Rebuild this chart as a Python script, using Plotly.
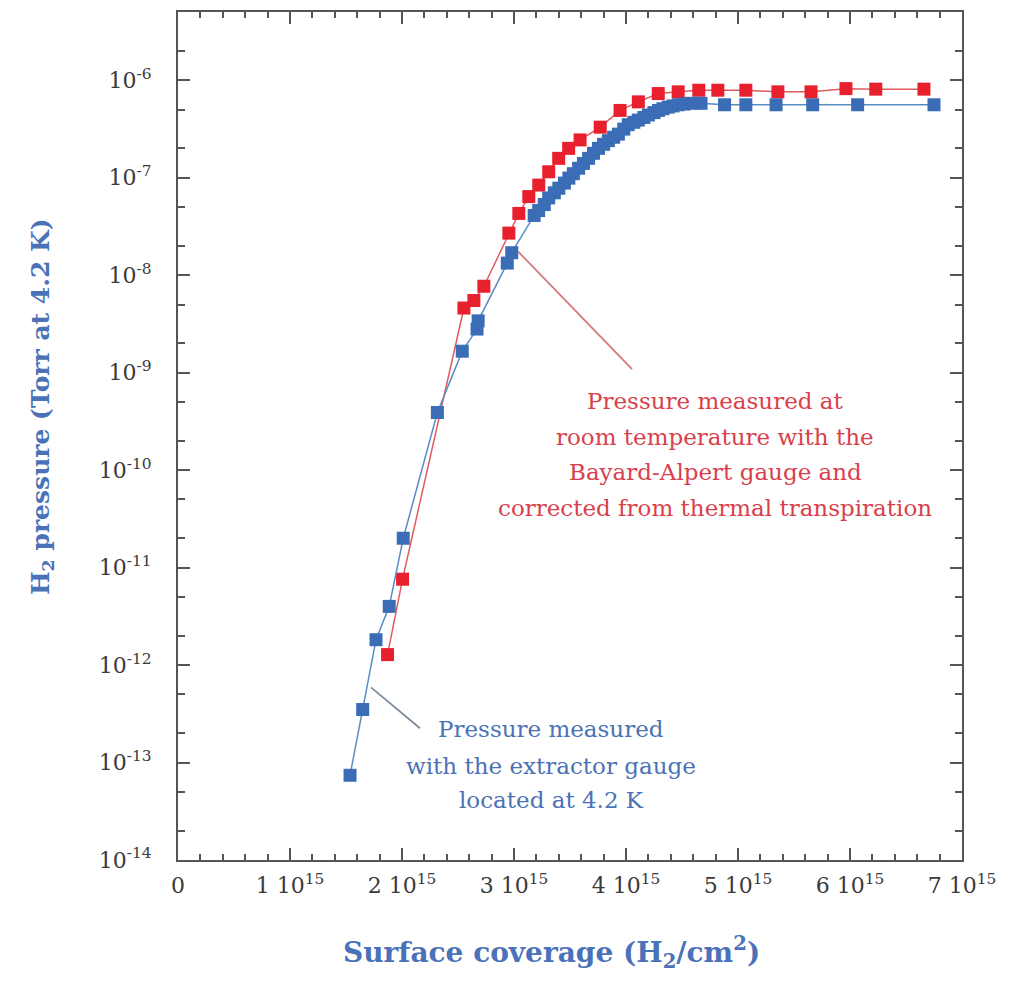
import plotly.graph_objects as go

# Extractor gauge at 4.2 K (blue)
blue_cov = [1.536, 1.649, 1.768, 1.886, 2.011, 2.316, 2.538, 2.67, 2.68, 2.94, 2.98,
            3.18, 3.22, 3.27, 3.31, 3.36, 3.40, 3.45, 3.49, 3.53, 3.577, 3.62, 3.666,
            3.71, 3.754, 3.80, 3.843, 3.89, 3.932, 3.98, 4.02, 4.07, 4.11, 4.16, 4.20,
            4.25, 4.29, 4.33, 4.377, 4.42, 4.466, 4.52, 4.58, 4.67, 4.88, 5.07, 5.34,
            5.667, 6.068, 6.75]
blue_p = [7.4e-14, 3.5e-13, 1.82e-12, 4.0e-12, 2.0e-11, 3.9e-10, 1.66e-9, 2.8e-9, 3.4e-9,
          1.33e-8, 1.7e-8,
          4.1e-8, 4.6e-8, 5.3e-8, 6.2e-8, 7.0e-8, 7.8e-8, 8.8e-8, 9.9e-8, 1.1e-7, 1.25e-7,
          1.4e-7, 1.58e-7, 1.78e-7, 2.0e-7, 2.2e-7, 2.4e-7, 2.6e-7, 2.8e-7, 3.15e-7,
          3.5e-7, 3.7e-7, 3.9e-7, 4.15e-7, 4.4e-7, 4.65e-7, 4.9e-7, 5.1e-7, 5.3e-7,
          5.45e-7, 5.6e-7, 5.7e-7, 5.8e-7, 5.8e-7, 5.6e-7, 5.6e-7, 5.6e-7, 5.6e-7,
          5.6e-7, 5.6e-7]

# Bayard-Alpert gauge at room temperature, corrected (red)
red_cov = [1.871, 2.005, 2.553, 2.642, 2.731, 2.954, 3.043, 3.132, 3.221, 3.310, 3.399,
           3.488, 3.59, 3.77, 3.947, 4.11, 4.288, 4.466, 4.65, 4.82, 5.07, 5.356,
           5.652, 5.964, 6.23, 6.66]
red_p = [1.28e-12, 7.6e-12, 4.6e-9, 5.5e-9, 7.7e-9, 2.7e-8, 4.3e-8, 6.4e-8, 8.4e-8,
         1.15e-7, 1.58e-7, 2.0e-7, 2.44e-7, 3.3e-7, 4.9e-7, 6.0e-7, 7.3e-7, 7.6e-7,
         7.9e-7, 7.9e-7, 7.9e-7, 7.6e-7, 7.6e-7, 8.2e-7, 8.1e-7, 8.1e-7]

x_ticks = [0, 1, 2, 3, 4, 5, 6, 7]
x_ticktext = ["0"] + [f"{k} 10<sup>15</sup>" for k in range(1, 8)]
y_exps = [-14, -13, -12, -11, -10, -9, -8, -7, -6]
y_ticktext = [f"10<sup>{e}</sup>" for e in y_exps]

red_note = ["Pressure measured at", "room temperature with the",
            "Bayard-Alpert gauge and", "corrected from thermal transpiration"]
blue_note = ["Pressure measured", "with the extractor gauge", "located at 4.2 K"]

SERIF = "DejaVu Serif"
AXIS = "#555555"
BLUE = "#3a6db5"
RED = "#e8202e"

fig = go.Figure()
fig.add_trace(go.Scatter(
    x=red_cov, y=red_p, mode="lines+markers",
    line=dict(color="#e05a5e", width=1.5),
    marker=dict(symbol="square", size=13, color=RED),
    showlegend=False))
fig.add_trace(go.Scatter(
    x=blue_cov, y=blue_p, mode="lines+markers",
    line=dict(color="#5a8cc4", width=1.5),
    marker=dict(symbol="square", size=13, color=BLUE),
    showlegend=False))

L, R, T, B = 178, 61, 10, 125
W, H = 1023, 985
pw, ph = W - L - R, H - T - B

def px(xp):
    return (xp - L) / pw

def py(yp):
    return (H - B - yp) / ph

tickfont = dict(family=SERIF, size=22, color="#3a3a3a")

fig.update_xaxes(
    range=[0, 7], tickvals=x_ticks, ticktext=x_ticktext,
    showline=True, linecolor=AXIS, linewidth=2, mirror="ticks",
    ticks="inside", ticklen=12, tickwidth=2, tickcolor=AXIS,
    minor=dict(ticks="inside", ticklen=6, tickwidth=1.5, tickcolor=AXIS, dtick=0.2),
    showgrid=False, zeroline=False, tickfont=tickfont, ticklabelstandoff=5)

fig.update_yaxes(
    type="log", range=[-14, -5.3],
    tickvals=[10.0 ** e for e in y_exps], ticktext=y_ticktext,
    showline=True, linecolor=AXIS, linewidth=2, mirror="ticks",
    ticks="inside", ticklen=12, tickwidth=2, tickcolor=AXIS,
    minor=dict(ticks="inside", ticklen=7, tickwidth=1.5, tickcolor=AXIS),
    showgrid=False, zeroline=False, tickfont=tickfont, ticklabelstandoff=20)

annotations = []
red_y = [400, 436, 471, 507]
for txt, yp in zip(red_note, red_y):
    annotations.append(dict(
        xref="paper", yref="paper", x=px(715), y=py(yp), text=txt, showarrow=False,
        xanchor="center", yanchor="middle",
        font=dict(family=SERIF, size=23, color="#d8414c")))
blue_y = [729, 766, 800]
for txt, yp in zip(blue_note, blue_y):
    annotations.append(dict(
        xref="paper", yref="paper", x=px(551), y=py(yp), text=txt, showarrow=False,
        xanchor="center", yanchor="middle",
        font=dict(family=SERIF, size=23, color="#4a72b4")))

annotations.append(dict(
    xref="paper", yref="paper", x=px(551), y=py(953),
    text="<b>Surface coverage (H<sub>2</sub>/cm<sup>2</sup>)</b>", showarrow=False,
    xanchor="center", yanchor="middle",
    font=dict(family=SERIF, size=28, color="#4a72b8")))
annotations.append(dict(
    xref="paper", yref="paper", x=px(42), y=py(406),
    text="<b>H<sub>2</sub> pressure (Torr at 4.2 K)</b>", showarrow=False,
    textangle=-90, xanchor="center", yanchor="middle",
    font=dict(family=SERIF, size=25, color="#4a72b8")))

shapes = [
    dict(type="line", xref="paper", yref="paper",
         x0=px(518), y0=py(250), x1=px(632), y1=py(368),
         line=dict(color="#d47a7e", width=1.8)),
    dict(type="line", xref="paper", yref="paper",
         x0=px(371), y0=py(687), x1=px(420), y1=py(728),
         line=dict(color="#7d8c9c", width=1.8)),
]

fig.update_layout(
    width=W, height=H,
    margin=dict(l=L, r=R, t=T, b=B),
    paper_bgcolor="white", plot_bgcolor="white",
    annotations=annotations, shapes=shapes)

fig.write_html("out.html")
